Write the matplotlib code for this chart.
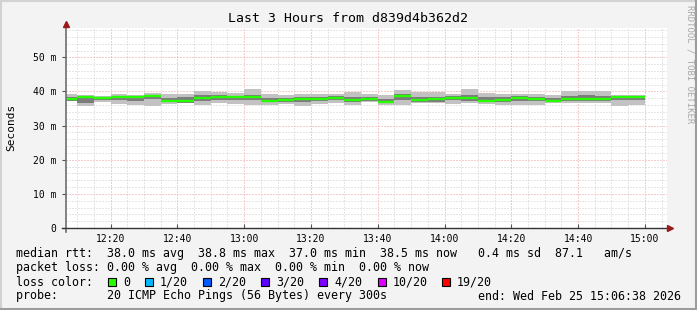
import matplotlib
matplotlib.use("Agg")
import matplotlib.pyplot as plt
from matplotlib.patches import Rectangle
from matplotlib.lines import Line2D

W, H = 697, 310
MONO = "DejaVu Sans Mono"

# time axis in minutes after 12:00; graph covers 12:06:38 .. 15:06:38
t_start = 6 + 38 / 60.0
t_end = t_start + 180
# 5 minute rrd steps, first one partial
bin_edges = [t_start] + [10 + 5 * i for i in range(35)]

# median rtt per step (ms)
med = [37.8, 38.5, 38.1, 38.5, 38.3, 38.8, 37.2, 37.2, 38.0, 38.5, 38.3, 38.3,
       37.3, 37.4, 37.7, 37.8, 38.1, 37.4, 37.8, 37.0, 38.7, 37.4, 37.7, 38.1,
       38.0, 37.3, 37.6, 38.0, 37.9, 37.3, 37.7, 37.8, 37.8, 38.4, 38.5]
# smoke: min / lower quartile / upper quartile / max of the 20 pings
ping_lo = [37.1, 35.7, 36.8, 36.3, 35.9, 35.7, 36.3, 36.5, 35.9, 36.5, 36.3, 36.1,
           35.9, 36.3, 35.7, 36.3, 36.5, 35.9, 36.8, 35.9, 36.1, 36.5, 36.5, 36.3,
           36.5, 36.3, 35.9, 36.1, 36.1, 36.5, 36.5, 36.6, 36.6, 35.7, 36.1]
ping_q1 = [37.3, 36.6, 37.4, 37.6, 37.2, 37.8, 36.8, 36.7, 37.2, 37.5, 37.6, 37.4,
           36.8, 36.8, 37.0, 37.2, 37.4, 36.8, 37.3, 36.6, 37.6, 36.9, 37.0, 37.4,
           37.2, 36.8, 37.0, 37.3, 37.2, 36.9, 37.1, 37.2, 37.1, 37.5, 37.6]
ping_q3 = [38.5, 38.7, 38.5, 38.8, 38.7, 39.1, 38.0, 38.3, 38.9, 39.0, 38.8, 39.1,
           38.2, 38.2, 38.4, 38.5, 38.6, 38.4, 38.4, 37.9, 39.4, 38.3, 38.5, 38.7,
           38.9, 38.4, 38.3, 38.6, 38.5, 38.0, 38.8, 38.9, 38.8, 38.8, 38.8]
ping_hi = [39.3, 38.9, 38.8, 39.2, 39.0, 39.6, 39.2, 39.4, 40.1, 39.9, 39.6, 40.6,
           39.4, 39.0, 39.4, 39.4, 39.2, 39.8, 39.2, 39.0, 40.4, 39.8, 39.8, 39.4,
           40.7, 39.6, 39.4, 39.4, 39.4, 39.0, 40.2, 40.2, 40.2, 39.0, 39.0]

y_ticks = [0, 10, 20, 30, 40, 50]
y_labels = ["0", "10 m", "20 m", "30 m", "40 m", "50 m"]
x_ticks = [20, 40, 60, 80, 100, 120, 140, 160, 180]
x_labels = ["12:20", "12:40", "13:00", "13:20", "13:40", "14:00", "14:20", "14:40", "15:00"]

loss_names = ["0", "1/20", "2/20", "3/20", "4/20", "10/20", "19/20"]
loss_colors = ["#26ff00", "#00b8ff", "#0059ff", "#5e00ff", "#7e00ff", "#dd00ff", "#ff0000"]
loss_box_x = [108, 145, 203, 261, 319, 378, 442]


def fx(px):
    return px / W


def fy(py):
    return 1 - py / H


fig = plt.figure(figsize=(W / 100, H / 100), dpi=100, facecolor="#f3f3f3")

# frame (rrdtool style 3d border)
fig.add_artist(Line2D([0, 1], [fy(0.5), fy(0.5)], transform=fig.transFigure, color="#d2d2d2", lw=1.5))
fig.add_artist(Line2D([fx(0.5), fx(0.5)], [0, 1], transform=fig.transFigure, color="#d2d2d2", lw=1.5))
fig.add_artist(Line2D([0, 1], [fy(309), fy(309)], transform=fig.transFigure, color="#9c9c9c", lw=1.5))
fig.add_artist(Line2D([fx(696), fx(696)], [0, 1], transform=fig.transFigure, color="#9c9c9c", lw=1.5))

ax = fig.add_axes([fx(66), fy(228), fx(667) - fx(66), fy(28) - fy(228)])
ax.set_facecolor("white")
ax.set_xlim(t_start, t_end)
ax.set_ylim(0, 58.6)

# grid
dotted = (0, (1, 2))
for v in range(0, 59, 2):
    if v % 10:
        ax.axhline(v, color="#cfcfcf", lw=0.72, ls=dotted, zorder=0)
for v in range(10, 186, 5):
    if v % 20:
        ax.axvline(v, color="#cfcfcf", lw=0.72, ls=dotted, zorder=0)
for v in y_ticks[1:]:
    ax.axhline(v, color="#ee9a9a", lw=0.72, ls=dotted, zorder=0)
for v in x_ticks:
    ax.axvline(v, color="#ee9a9a", lw=0.72, ls=dotted, zorder=0)

# smoke
ax.stairs(ping_hi, bin_edges, baseline=ping_lo, fill=True, color="#c2c2c2", zorder=2)
ax.stairs(ping_q3, bin_edges, baseline=ping_q1, fill=True, color="#7c7c7c", zorder=3)
# median line
ax.hlines(med, bin_edges[:-1], bin_edges[1:], color="#26ff00", lw=1.7, zorder=4)

for s in ax.spines.values():
    s.set_visible(False)
ax.set_yticks(y_ticks)
ax.set_yticklabels(y_labels, fontfamily=MONO, fontsize=7)
ax.set_xticks(x_ticks)
ax.set_xticklabels(x_labels, fontfamily=MONO, fontsize=7)
ax.tick_params(axis="y", length=3, pad=4, color="#555555")
ax.tick_params(axis="x", length=3, pad=4, color="#555555", direction="in")

# axis lines with arrows
fig.add_artist(Line2D([fx(66), fx(66)], [fy(232), fy(24)], transform=fig.transFigure, color="#6e6e6e", lw=1.2))
fig.add_artist(Line2D([fx(62), fx(670)], [fy(228), fy(228)], transform=fig.transFigure, color="#333333", lw=1.0))
fig.add_artist(Line2D([fx(66)], [fy(24)], transform=fig.transFigure, marker="^", ms=5, color="#9a1a1a", lw=0))
fig.add_artist(Line2D([fx(670)], [fy(228)], transform=fig.transFigure, marker=">", ms=5, color="#9a1a1a", lw=0))

fig.text(fx(348), fy(19), "Last 3 Hours from d839d4b362d2", ha="center", va="center",
         fontfamily=MONO, fontsize=9.5)
fig.text(fx(11), fy(127), "Seconds", rotation=90, ha="center", va="center",
         fontfamily=MONO, fontsize=8)
fig.text(fx(690), fy(5), "RRDTOOL / TOBI OETIKER", rotation=270, ha="center", va="top",
         fontfamily=MONO, fontsize=6.5, color="#a8a8a8")

# legend
lg = dict(fontfamily=MONO, fontsize=8.4, va="center", ha="left")
fig.text(fx(16), fy(254), "median rtt:  38.0 ms avg  38.8 ms max  37.0 ms min  38.5 ms now   0.4 ms sd  87.1   am/s", **lg)
fig.text(fx(16), fy(268), "packet loss: 0.00 % avg  0.00 % max  0.00 % min  0.00 % now", **lg)
fig.text(fx(16), fy(282), "loss color:", **lg)
for name, col, bx in zip(loss_names, loss_colors, loss_box_x):
    fig.add_artist(Rectangle((fx(bx), fy(286)), 8 / W, 8 / H, transform=fig.transFigure,
                             facecolor=col, edgecolor="black", lw=0.8))
    fig.text(fx(bx + 15), fy(282), name, **lg)
fig.text(fx(16), fy(296), "probe:       20 ICMP Echo Pings (56 Bytes) every 300s", **lg)
fig.text(fx(681), fy(296), "end: Wed Feb 25 15:06:38 2026", **dict(lg, ha="right"))

fig.savefig("out.png", dpi=100, facecolor=fig.get_facecolor())
